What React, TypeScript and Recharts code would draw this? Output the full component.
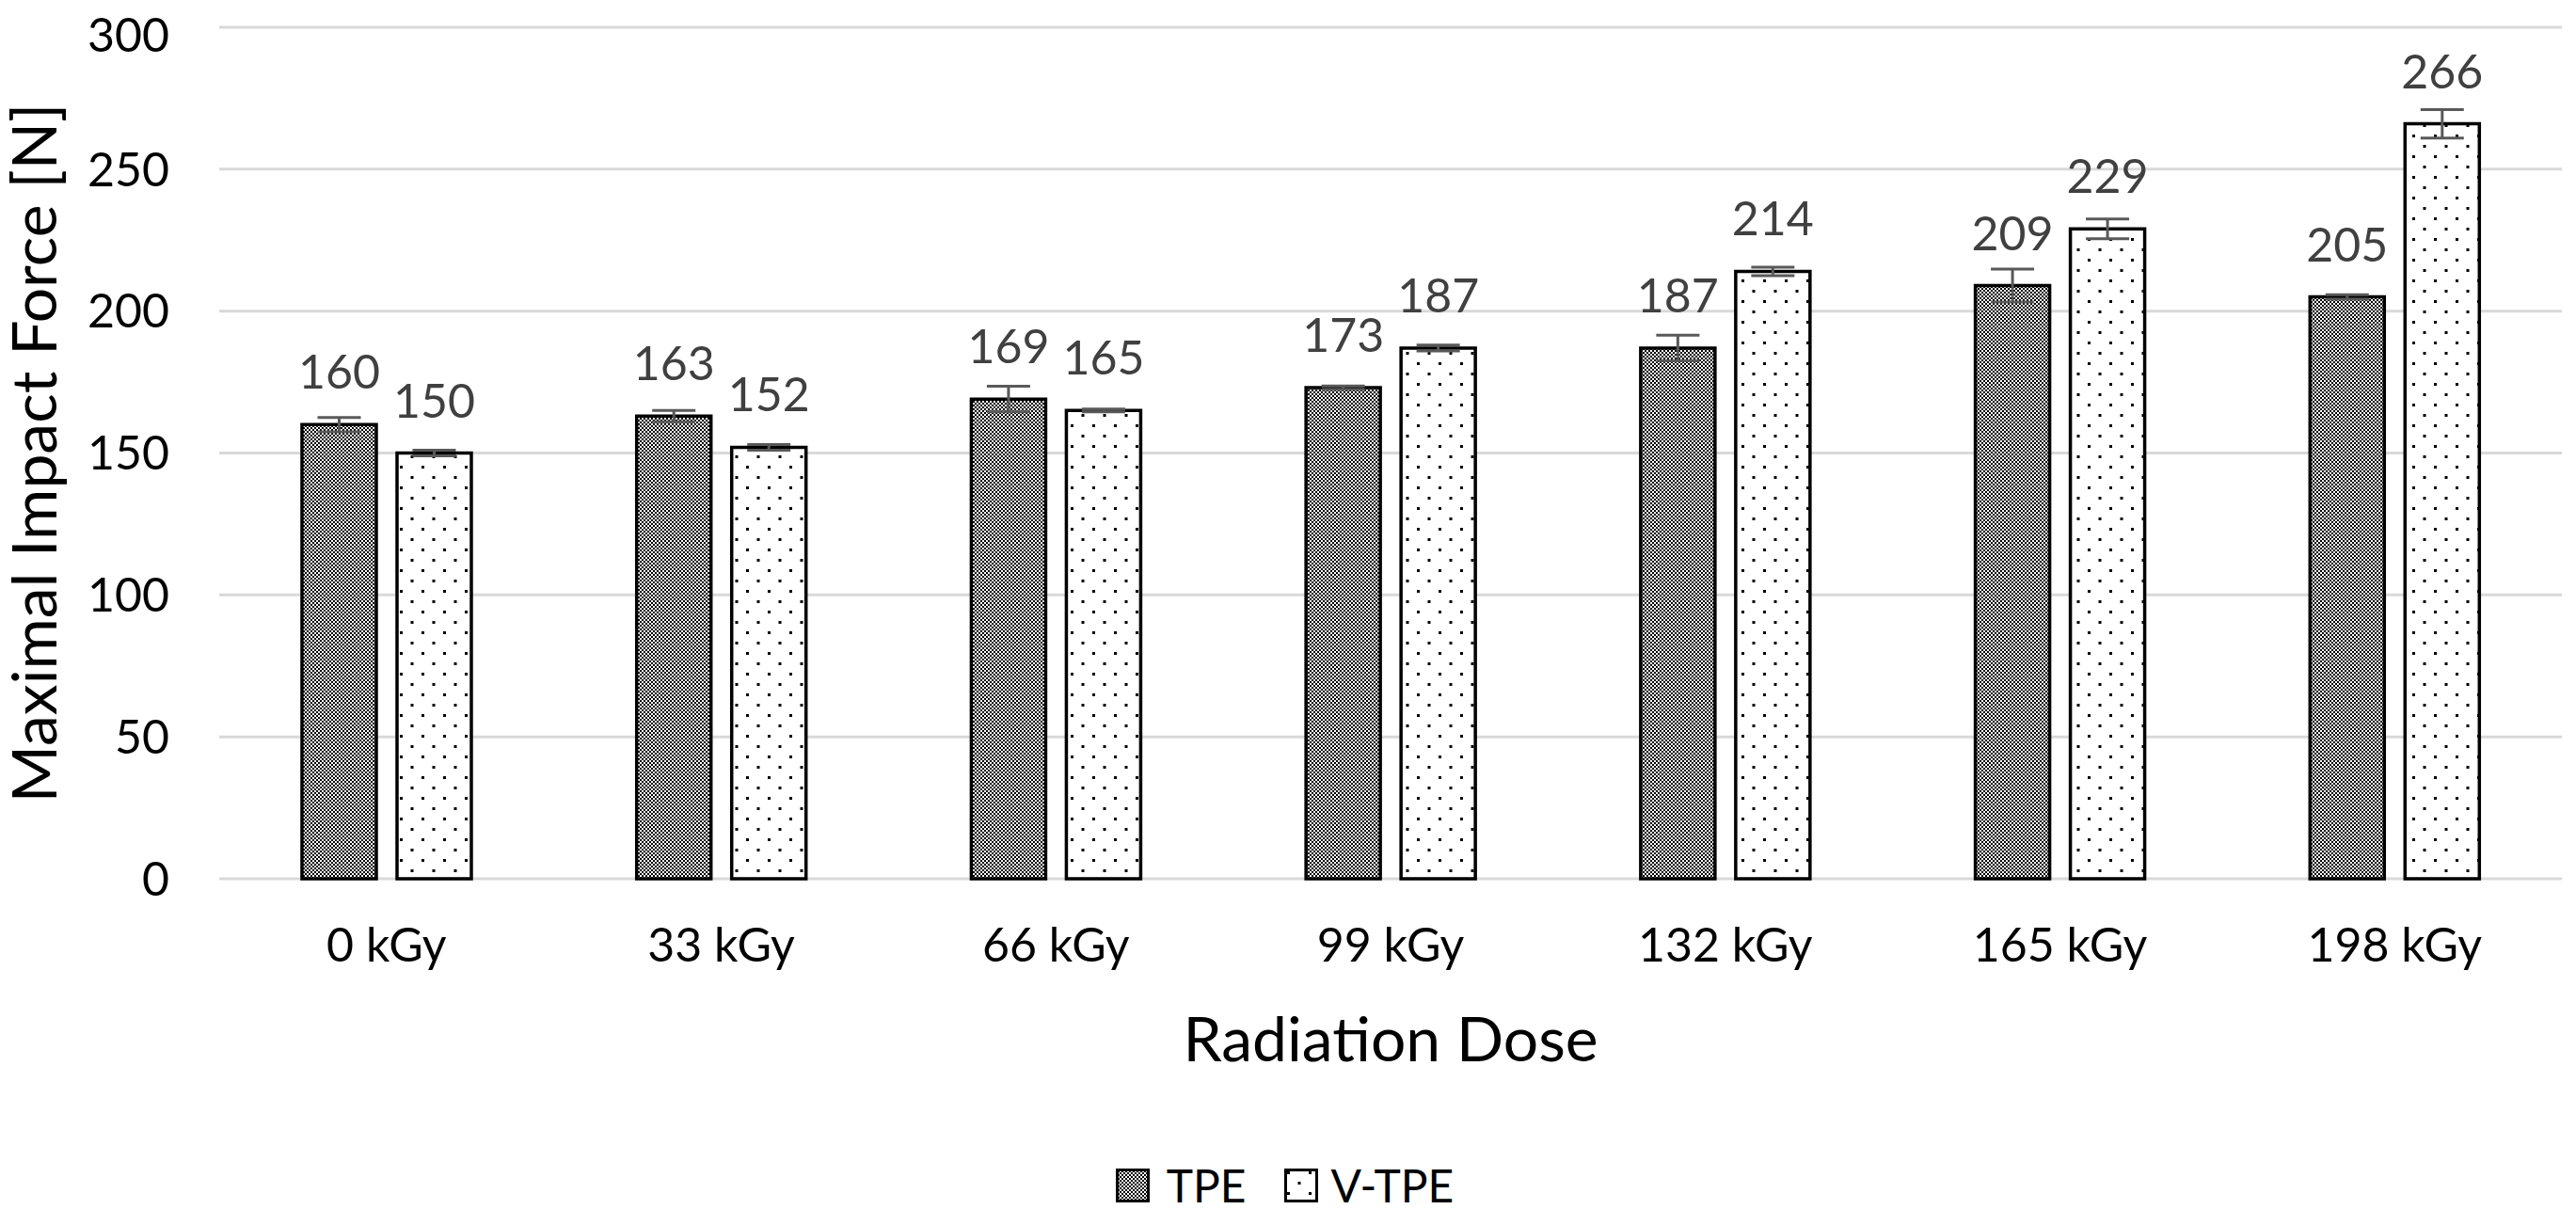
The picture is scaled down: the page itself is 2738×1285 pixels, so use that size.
import React from 'react';
import {
  BarChart,
  Bar,
  XAxis,
  YAxis,
  CartesianGrid,
  ErrorBar,
  LabelList,
  Legend,
} from 'recharts';

const doses = ['0 kGy', '33 kGy', '66 kGy', '99 kGy', '132 kGy', '165 kGy', '198 kGy'];
const tpeValues = [160, 163, 169, 173, 187, 209, 205];
const vtpeValues = [150, 152, 165, 187, 214, 229, 266];
const tpeErrors = [2.5, 2, 4.5, 0.6, 4.5, 5.8, 0.8];
const vtpeErrors = [1, 1, 0.5, 1, 1.5, 3.5, 5];
const yTicks = [0, 50, 100, 150, 200, 250, 300];

const data = doses.map((dose, i) => ({
  dose,
  tpe: tpeValues[i],
  vtpe: vtpeValues[i],
  tpeErr: tpeErrors[i],
  vtpeErr: vtpeErrors[i],
}));

const FONT = 'Lato, "Open Sans", sans-serif';

// Excel-like fill patterns
const TpePattern = ({ id }: { id: string }) => (
  <pattern id={id} patternUnits="userSpaceOnUse" width={4} height={4}>
    <rect width={4} height={4} fill="#fff" />
    <rect x={0} y={0} width={2} height={2} fill="#000" />
    <rect x={2} y={2} width={2} height={2} fill="#000" />
  </pattern>
);

const VtpePattern = ({ id }: { id: string }) => (
  <pattern id={id} patternUnits="userSpaceOnUse" width={23} height={22}>
    <rect width={23} height={22} fill="#fff" />
    <rect x={3} y={3} width={3} height={3} fill="#000" />
    <rect x={14.5} y={14} width={3} height={3} fill="#000" />
  </pattern>
);

const renderValueLabel = (props: any) => {
  const { x, y, width, value } = props;
  return (
    <text
      x={x + width / 2}
      y={y - 38}
      textAnchor="middle"
      fontFamily={FONT}
      fontSize={50}
      fill="#404040"
    >
      {value}
    </text>
  );
};

const Swatch = ({ kind }: { kind: 'tpe' | 'vtpe' }) => (
  <svg width={36} height={36} style={{ display: 'block' }}>
    <defs>
      {kind === 'tpe' ? <TpePattern id="lg-tpe" /> : <VtpePattern id="lg-vtpe" />}
    </defs>
    <rect
      x={1.5}
      y={1.5}
      width={33}
      height={33}
      fill={kind === 'tpe' ? 'url(#lg-tpe)' : 'url(#lg-vtpe)'}
      stroke="#000"
      strokeWidth={3}
    />
  </svg>
);

const LegendContent = () => (
  <div
    style={{
      display: 'flex',
      justifyContent: 'center',
      alignItems: 'center',
      height: 50,
      fontFamily: FONT,
      fontSize: 48,
      lineHeight: 1,
      color: '#000',
    }}
  >
    <Swatch kind="tpe" />
    <span style={{ marginLeft: 18, marginRight: 40 }}>TPE</span>
    <Swatch kind="vtpe" />
    <span style={{ marginLeft: 14 }}>V-TPE</span>
  </div>
);

export default function App() {
  return (
    <BarChart
      width={2722}
      height={1277}
      data={data}
      margin={{ top: 21, right: 7, bottom: 0, left: 0 }}
      barSize={79}
      barGap={22}
    >
      <defs>
        <TpePattern id="bar-tpe" />
        <VtpePattern id="bar-vtpe" />
      </defs>
      <CartesianGrid vertical={false} stroke="#d9d9d9" strokeWidth={3} />
      <XAxis
        dataKey="dose"
        axisLine={false}
        tickLine={false}
        tickSize={0}
        tickMargin={52}
        height={301}
        tick={{ fontFamily: FONT, fontSize: 50, fill: '#000' }}
        label={(props: any) => {
          const vb = props.viewBox;
          return (
            <text
              x={vb.x + vb.width / 2}
              y={vb.y + 194}
              textAnchor="middle"
              fontFamily={FONT}
              fontSize={66}
              fill="#000"
            >
              Radiation Dose
            </text>
          );
        }}
      />
      <YAxis
        domain={[0, 300]}
        ticks={yTicks}
        axisLine={false}
        tickLine={false}
        tickSize={0}
        tickMargin={53}
        width={225}
        tick={{ fontFamily: FONT, fontSize: 50, fill: '#000' }}
        label={(props: any) => {
          const vb = props.viewBox;
          const cy = vb.y + vb.height / 2;
          return (
            <text
              x={52}
              y={cy}
              transform={`rotate(-90 52 ${cy})`}
              textAnchor="middle"
              fontFamily={FONT}
              fontSize={66}
              fill="#000"
            >
              Maximal Impact Force [N]
            </text>
          );
        }}
      />
      <Legend verticalAlign="bottom" content={<LegendContent />} />
      <Bar
        dataKey="tpe"
        name="TPE"
        fill="url(#bar-tpe)"
        stroke="#000"
        strokeWidth={3.5}
        isAnimationActive={false}
      >
        <ErrorBar
          dataKey="tpeErr"
          width={23}
          stroke="#595959"
          strokeWidth={3}
          isAnimationActive={false}
        />
        <LabelList dataKey="tpe" content={renderValueLabel} />
      </Bar>
      <Bar
        dataKey="vtpe"
        name="V-TPE"
        fill="url(#bar-vtpe)"
        stroke="#000"
        strokeWidth={3.5}
        isAnimationActive={false}
      >
        <ErrorBar
          dataKey="vtpeErr"
          width={23}
          stroke="#595959"
          strokeWidth={3}
          isAnimationActive={false}
        />
        <LabelList dataKey="vtpe" content={renderValueLabel} />
      </Bar>
    </BarChart>
  );
}
